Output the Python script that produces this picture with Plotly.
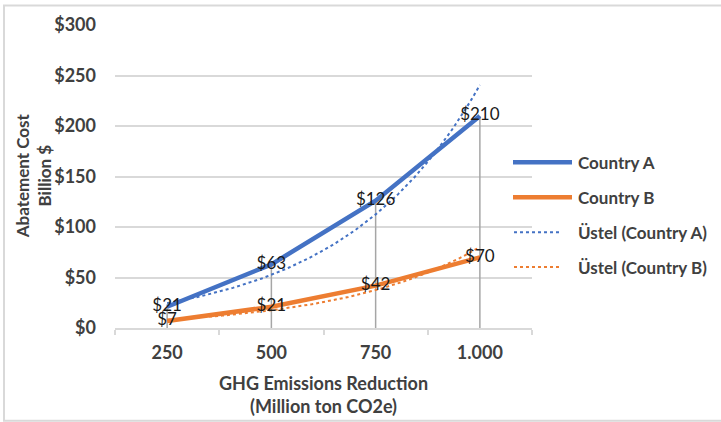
import numpy as np
import plotly.graph_objects as go

# Category axis and series values
categories = ["250", "500", "750", "1.000"]
country_a = [21, 63, 126, 210]
country_b = [7, 21, 42, 70]
y_ticks = [0, 50, 100, 150, 200, 250, 300]
y_tick_labels = ["$0", "$50", "$100", "$150", "$200", "$250", "$300"]

BLUE = "#4472C4"
ORANGE = "#ED7D31"
TEXT = "#404040"
GRID = "#D9D9D9"
FONT = "Lato"

x = np.arange(1, len(categories) + 1)


def exp_trend(values, n=120):
    """Exponential least-squares fit over category positions 1..N."""
    b, ln_a = np.polyfit(x, np.log(values), 1)
    xs = np.linspace(x[0], x[-1], n)
    return xs, np.exp(ln_a + b * xs)


fig = go.Figure()

# Drop lines from the highest point at each category down to the axis
drop_x, drop_y = [], []
for xi, a, b in zip(x, country_a, country_b):
    drop_x += [xi, xi, None]
    drop_y += [max(a, b), 0, None]
fig.add_trace(go.Scatter(x=drop_x, y=drop_y, mode="lines",
                         line=dict(color="#A6A6A6", width=1.5),
                         hoverinfo="skip", showlegend=False))

for vals, color in [(country_a, BLUE), (country_b, ORANGE)]:
    fig.add_trace(go.Scatter(x=x, y=vals, mode="lines",
                             line=dict(color=color, width=4.5),
                             showlegend=False))

for vals, color in [(country_a, BLUE), (country_b, ORANGE)]:
    tx, ty = exp_trend(vals)
    fig.add_trace(go.Scatter(x=tx, y=ty, mode="lines",
                             line=dict(color=color, width=2, dash="dot"),
                             showlegend=False))

# Value labels centred on each point
for vals in (country_a, country_b):
    fig.add_trace(go.Scatter(x=x, y=vals, mode="text",
                             text=[f"${v}" for v in vals],
                             textposition="middle center",
                             textfont=dict(family=FONT, size=17, color="#1a1a1a"),
                             showlegend=False))

# Legend drawn beside the plot area
PL, PR, PT, PB = 115, 532, 24.5, 328


def px(xp):
    return (xp - PL) / (PR - PL)


def py(yp):
    return (PB - yp) / (PB - PT)


legend_items = [
    ("Country A", BLUE, "solid", 4.5, 513, 572),
    ("Country B", ORANGE, "solid", 4.5, 513, 572),
    ("Üstel (Country A)", BLUE, "dot", 2, 514, 562),
    ("Üstel (Country B)", ORANGE, "dot", 2, 514, 562),
]
legend_y = [162, 197, 232, 267]
W, H = 721, 422
shapes = []
annotations = []
for (label, color, dash, width, x0, x1), ly in zip(legend_items, legend_y):
    shapes.append(dict(type="line", xref="paper", yref="paper",
                       x0=px(x0), x1=px(x1), y0=py(ly), y1=py(ly),
                       line=dict(color=color, width=width, dash=dash)))
    annotations.append(dict(xref="paper", yref="paper", x=px(576), y=py(ly),
                            xanchor="left", yanchor="middle", showarrow=False,
                            text=label,
                            font=dict(family=FONT, size=17, color=TEXT, weight="bold")))

# Chart border
shapes.append(dict(type="rect", xref="paper", yref="paper",
                   x0=px(4), x1=px(730), y0=py(421), y1=py(5),
                   line=dict(color=GRID, width=2), layer="below"))

# Axis titles
annotations.append(dict(xref="paper", yref="paper", x=px(33), y=py(176),
                        xanchor="center", yanchor="middle", showarrow=False,
                        textangle=-90, text="Abatement Cost<br>Billion $",
                        font=dict(family=FONT, size=17, color=TEXT, weight="bold")))
annotations.append(dict(xref="paper", yref="paper", x=px(323), y=py(395),
                        xanchor="center", yanchor="middle", showarrow=False,
                        text="GHG Emissions Reduction<br>(Million ton CO2e)",
                        font=dict(family=FONT, size=18, color=TEXT, weight="bold")))

fig.update_layout(
    width=W, height=H,
    margin=dict(l=PL, r=W - PR, t=PT, b=H - PB),
    paper_bgcolor="white", plot_bgcolor="white",
    shapes=shapes, annotations=annotations,
    showlegend=False,
    font=dict(family=FONT, color=TEXT),
)
fig.update_xaxes(
    range=[0.5, 4.5], tickmode="array", tickvals=list(x), ticktext=categories,
    ticks="", showgrid=False, zeroline=False,
    showline=True, linecolor=GRID, linewidth=1.5, ticklabelstandoff=8,
    tickfont=dict(family=FONT, size=18, color=TEXT, weight="bold"),
    minor=dict(tickmode="array", tickvals=[0.5, 1.5, 2.5, 3.5, 4.5],
               ticks="outside", ticklen=5, tickcolor=GRID, tickwidth=1.5,
               showgrid=False),
)
fig.update_yaxes(
    range=[0, 300], tickmode="array", tickvals=y_ticks, ticktext=y_tick_labels,
    showgrid=True, gridcolor=GRID, gridwidth=1.5, zeroline=False,
    showline=False, ticks="", ticklabelstandoff=18,
    tickfont=dict(family=FONT, size=18, color=TEXT, weight="bold"),
)

fig.write_html("out.html")
